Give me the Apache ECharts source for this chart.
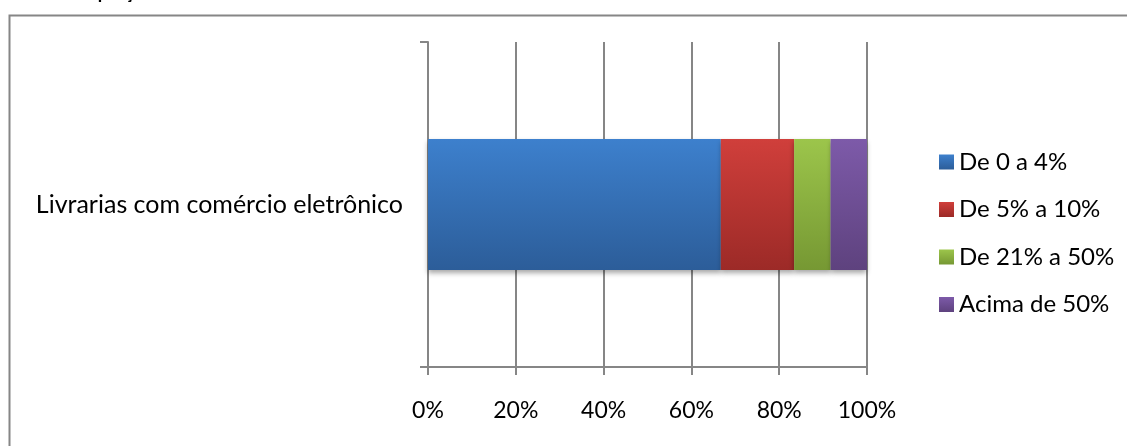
<!DOCTYPE html>
<html>
<head>
<meta charset="UTF-8">
<title>Livrarias com comércio eletrônico</title>
<script src="https://cdn.jsdelivr.net/npm/echarts@6/dist/echarts.min.js"></script>
<style>
  html, body { margin: 0; padding: 0; background: #fff; }
  #chart { width: 1127px; height: 446px; }
</style>
</head>
<body>
<div id="chart"></div>
<script>
// dados do gráfico
var categorias = ['Livrarias com comércio eletrônico'];
var faixas = ['De 0 a 4%', 'De 5% a 10%', 'De 21% a 50%', 'Acima de 50%'];
var de0a4 = [66.7];
var de5a10 = [16.7];
var de21a50 = [8.3];
var acima50 = [8.3];
var valores = [de0a4, de5a10, de21a50, acima50];
var ticksX = [0, 20, 40, 60, 80, 100];

// cores em gradiente (topo, base)
var cores = [
  ['#3d80cd', '#2c5d99'],
  ['#d03f3b', '#9c2a27'],
  ['#9cc54b', '#769833'],
  ['#7d5aa9', '#5e427e']
];

var fonte = 'Lato, "Open Sans", sans-serif';
var cinza = '#868686';

var series = faixas.map(function (nome, i) {
  return {
    name: nome,
    type: 'bar',
    stack: 'total',
    barWidth: 131,
    data: valores[i],
    itemStyle: {
      color: new echarts.graphic.LinearGradient(0, 0, 0, 1, [
        { offset: 0, color: cores[i][0] },
        { offset: 1, color: cores[i][1] }
      ]),
      shadowColor: 'rgba(0,0,0,0.35)',
      shadowBlur: 5,
      shadowOffsetY: 3
    },
    emphasis: { disabled: true }
  };
});

var myChart = echarts.init(document.getElementById('chart'));

var option = {
  animation: false,
  textStyle: { fontFamily: fonte },
  grid: { left: 428, right: 260, top: 42, bottom: 79 },
  xAxis: {
    type: 'value',
    min: ticksX[0],
    max: ticksX[ticksX.length - 1],
    interval: ticksX[1] - ticksX[0],
    axisLine: { show: true, lineStyle: { color: cinza, width: 2 } },
    axisTick: { show: true, length: 8, lineStyle: { color: cinza, width: 2 } },
    splitLine: { show: true, lineStyle: { color: cinza, width: 2 } },
    axisLabel: {
      formatter: '{value}%',
      color: '#000',
      fontSize: 23,
      fontFamily: fonte,
      margin: 32
    }
  },
  yAxis: {
    type: 'category',
    data: categorias,
    axisLine: { show: true, lineStyle: { color: cinza, width: 2 } },
    axisTick: { show: true, length: 8, lineStyle: { color: cinza, width: 2 } },
    axisLabel: {
      color: '#000',
      fontSize: 25,
      fontFamily: fonte,
      margin: 25
    }
  },
  legend: {
    orient: 'vertical',
    left: 939,
    top: 150,
    padding: 0,
    icon: 'rect',
    itemWidth: 15,
    itemHeight: 15,
    itemGap: 23.5,
    itemTextGap: 7,
    data: faixas,
    textStyle: { color: '#000', fontSize: 24, fontFamily: fonte, lineHeight: 24 }
  },
  graphic: [
    {
      type: 'rect',
      left: 7,
      top: 13,
      shape: { x: 0, y: 0, width: 1200, height: 500 },
      style: { fill: 'none', stroke: cinza, lineWidth: 2 },
      silent: true
    },
    {
      // título cortado no topo: só aparecem as descendentes
      type: 'text',
      x: 70,
      y: 2,
      style: {
        text: 'Proporção',
        font: 'bold 18px ' + fonte,
        fill: '#000',
        textVerticalAlign: 'bottom'
      },
      silent: true
    }
  ],
  series: series
};

myChart.setOption(option);
</script>
</body>
</html>
